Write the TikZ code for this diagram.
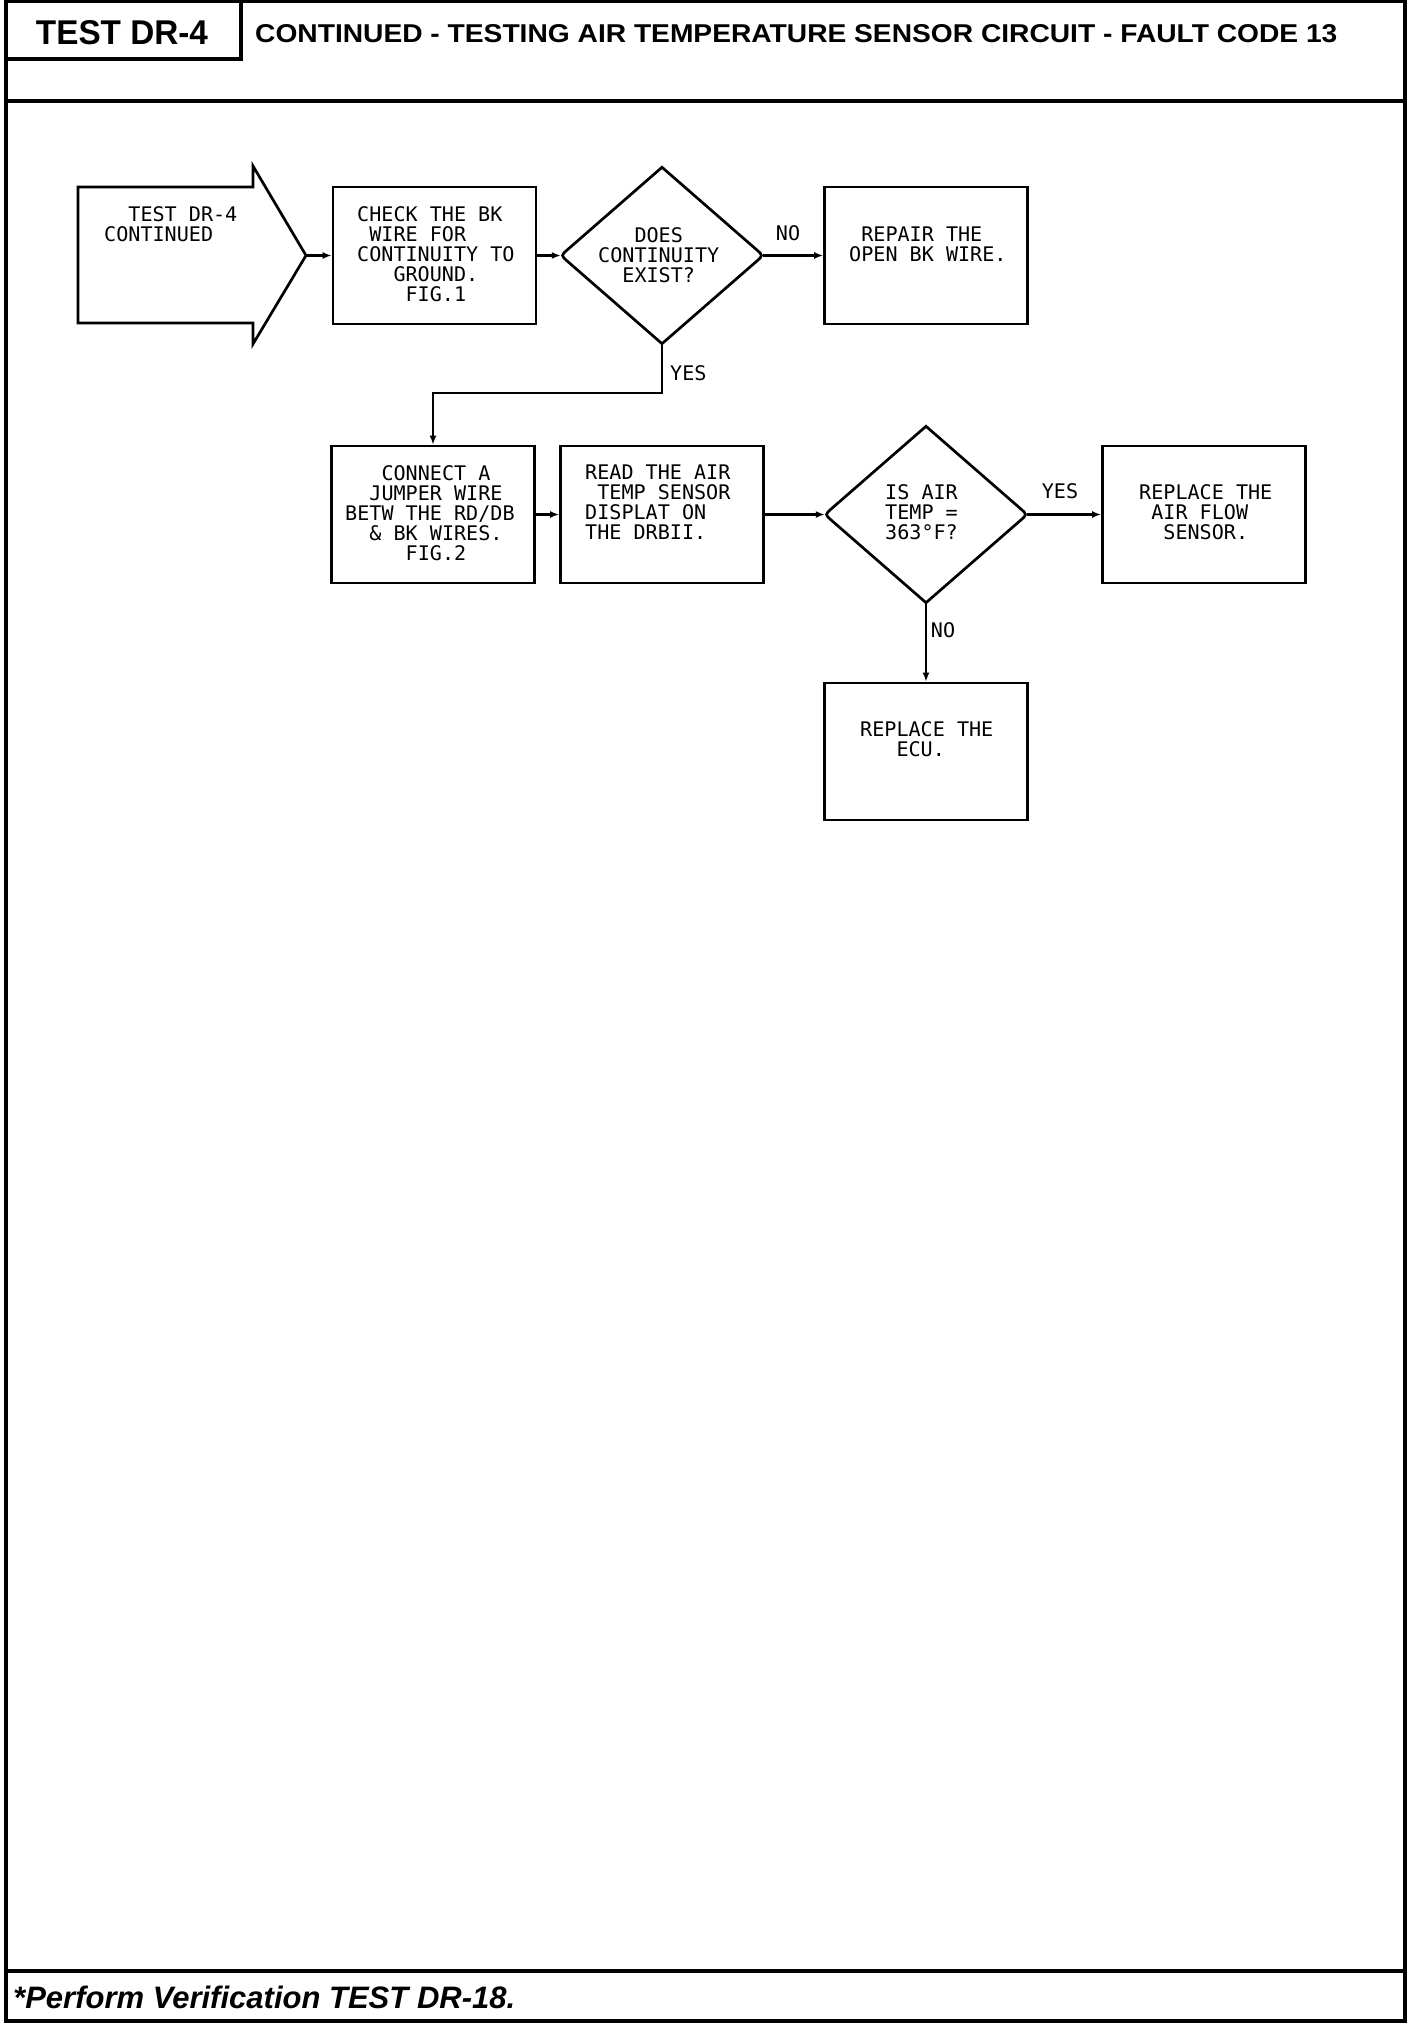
\documentclass[tikz,border=0pt]{standalone}
\usepackage{fontspec}
\usepackage{graphicx}
\setmainfont{Liberation Sans}
\newfontfamily\flowfont{DejaVu Sans Mono}
\usetikzlibrary{arrows.meta,shapes.geometric,calc}
\begin{document}
\begin{tikzpicture}[x=1pt,y=-1pt,
  frame/.style={line width=3.4pt,line cap=rect},
  box/.style={draw,line width=2.7pt,minimum width=203pt,minimum height=137pt,inner sep=0pt},
  dia/.style={shape=diamond,minimum width=202pt,minimum height=176pt,inner sep=0pt},
  outline/.style={line width=2.7pt,line join=miter},
  ftxt/.style={font={\flowfont\fontsize{20.1}{20}\selectfont},align=left,anchor=north west,inner sep=0pt},
  lbl/.style={font={\flowfont\fontsize{20.1}{20}\selectfont},inner sep=0pt},
  conn/.style={line width=2.5pt,-{Latex[length=9pt,width=7pt]}}]
\useasboundingbox (0,0) rectangle (1424,2028);
% frame
\draw[frame] (6,1) rectangle (1405,2021);
\draw[frame] (6,101) -- (1405,101);
\draw[frame] (6,1971) -- (1405,1971);
\draw[frame] (241,1) -- (241,59) -- (6,59);
\node[anchor=base,inner sep=0pt,font=\bfseries] (ttl) at (122,45) {\resizebox{172pt}{24pt}{TEST DR-4}};
\node[anchor=base west,inner sep=0pt,font=\bfseries] (sub) at (255,43) {\resizebox{1082pt}{18pt}{CONTINUED - TESTING AIR TEMPERATURE SENSOR CIRCUIT - FAULT CODE 13}};
\node[anchor=base west,inner sep=0pt,font=\bfseries\itshape] (foot) at (13,2008) {\resizebox{502pt}{!}{*Perform Verification TEST DR-18.}};
% start arrow
\draw[outline] (78,187) -- (253,187) -- (253,166) -- (306,255.5) -- (253,344) -- (253,323) -- (78,323) -- cycle;
\coordinate (tip) at (306,255.5);
\node[ftxt] (t0) at (104,206) {\phantom{XX}TEST DR-4\\CONTINUED};
% boxes
\node[box] (b1) at (434.5,255.5) {};
\node[box] (b2) at (926,255.5) {};
\node[box] (b3) at (433,514.5) {};
\node[box] (b4) at (662,514.5) {};
\node[box] (b5) at (1204,514.5) {};
\node[box] (b6) at (926,751.5) {};
\node[dia] (d1) at (662,255.5) {};
\node[dia] (d2) at (926,514.5) {};
\foreach \d in {d1,d2}{
  \draw[outline] (\d.north) -- ($(\d.west)+(7,-6.1)$) .. controls (\d.west) .. ($(\d.west)+(7,6.1)$) -- (\d.south) -- ($(\d.east)+(-7,6.1)$) .. controls (\d.east) .. ($(\d.east)+(-7,-6.1)$) -- cycle;
}
% texts
\node[ftxt] (t1) at (357,206) {CHECK THE BK\\\phantom{X}WIRE FOR\\CONTINUITY TO\\\phantom{XXX}GROUND.\\\phantom{XXXX}FIG.1};
\node[ftxt] (t2) at (598,227) {\phantom{XXX}DOES\\CONTINUITY\\\phantom{XX}EXIST?};
\node[ftxt] (t3) at (849,227) {\phantom{X}REPAIR THE\\OPEN BK WIRE.};
\node[ftxt] (t4) at (345,465) {\phantom{XXX}CONNECT A\\\phantom{XX}JUMPER WIRE\\BETW THE RD/DB\\\phantom{XX}\& BK WIRES.\\\phantom{XXXXX}FIG.2};
\node[ftxt] (t5) at (585,465) {READ THE AIR\\\phantom{X}TEMP SENSOR\\DISPLAT ON\\THE DRBII.};
\node[ftxt] (t6) at (885,484) {IS AIR\\TEMP =\\363°F?};
\node[ftxt] (t7) at (1139,484) {REPLACE THE\\\phantom{X}AIR FLOW\\\phantom{XX}SENSOR.};
\node[ftxt] (t8) at (860,721) {REPLACE THE\\\phantom{XXX}ECU.};
% labels
\node[lbl] (no1) at (788,233) {NO};
\node[lbl,anchor=west] (yes1) at (670,373) {YES};
\node[lbl] (yes2) at (1060,491) {YES};
\node[lbl] (no2) at (943,630) {NO};
% connectors
\draw[conn] (tip) -- (b1.west);
\draw[conn] (b1.east) -- (d1.west);
\draw[conn] (d1.east) -- (b2.west);
\draw[conn] (d1.south) -- ++(0,49.5) -| (b3.north);
\draw[conn] (b3.east) -- (b4.west);
\draw[conn] (b4.east) -- (d2.west);
\draw[conn] (d2.east) -- (b5.west);
\draw[conn] (d2.south) -- (b6.north);
\end{tikzpicture}
\end{document}
